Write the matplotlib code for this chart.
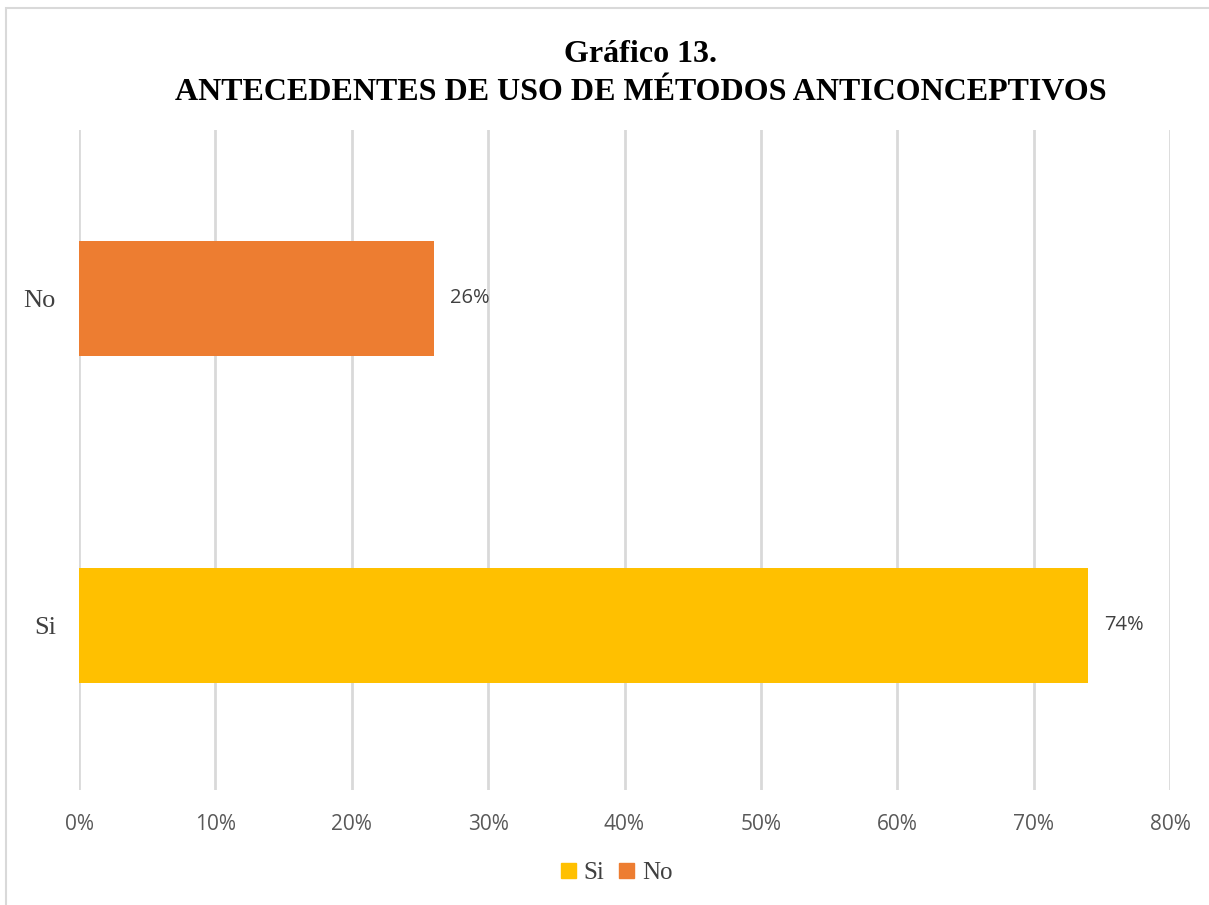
import matplotlib
matplotlib.use("Agg")
import matplotlib.pyplot as plt
from matplotlib.patches import Rectangle

categories = ["Si", "No"]
values = [74, 26]
colors = ["#FFC000", "#ED7D31"]
xticks = [0, 10, 20, 30, 40, 50, 60, 70, 80]

fig = plt.figure(figsize=(12.09, 9.05), dpi=100)
ax = fig.add_axes([79 / 1209, 1 - 790 / 905, (1170 - 79) / 1209, 660 / 905])

bars = ax.barh(range(len(categories)), values, height=0.35, color=colors, zorder=3)

ax.set_xlim(0, 80)
ax.set_ylim(-0.503, 1.515)
ax.set_xticks(xticks)
ax.set_xticklabels([f"{t}%" for t in xticks], fontsize=15, color="#595959",
                   family="Open Sans")
ax.set_yticks(range(len(categories)))
ax.set_yticklabels(categories, fontsize=19, color="#404040", family="Liberation Serif")
ax.tick_params(length=0)
ax.tick_params(axis="y", pad=16.5)
ax.tick_params(axis="x", pad=17)
ax.grid(axis="x", color="#d9d9d9", linewidth=2, zorder=0)
for s in ax.spines.values():
    s.set_visible(False)

for b, v in zip(bars, values):
    ax.text(v + 1.2, b.get_y() + b.get_height() / 2, f"{v}%", va="center", ha="left",
            fontsize=14.5, color="#404040", family="Open Sans")

fig.text(0.53, 0.940, "Gráfico 13.", ha="center", va="center", fontsize=23,
         fontweight="bold", family="Liberation Serif")
fig.text(0.53, 0.898, "ANTECEDENTES DE USO DE MÉTODOS ANTICONCEPTIVOS", ha="center",
         va="center", fontsize=23, fontweight="bold", family="Liberation Serif")

handles = [Rectangle((0, 0), 1, 1, color=c) for c in colors]
leg = fig.legend(handles, categories, loc="center", bbox_to_anchor=(0.51, 0.035), ncol=2,
                 frameon=False, handlelength=0.6, handleheight=0.6, handletextpad=0.3,
                 columnspacing=0.6, prop={"family": "Liberation Serif", "size": 18})
for t in leg.get_texts():
    t.set_color("#404040")

fig.patches.append(Rectangle((6 / 1209, -0.01), 1.1, 1 - 8 / 905 + 0.01, transform=fig.transFigure,
                             fill=False, edgecolor="#d9d9d9", linewidth=1.5))

fig.savefig("out.png", dpi=100)
